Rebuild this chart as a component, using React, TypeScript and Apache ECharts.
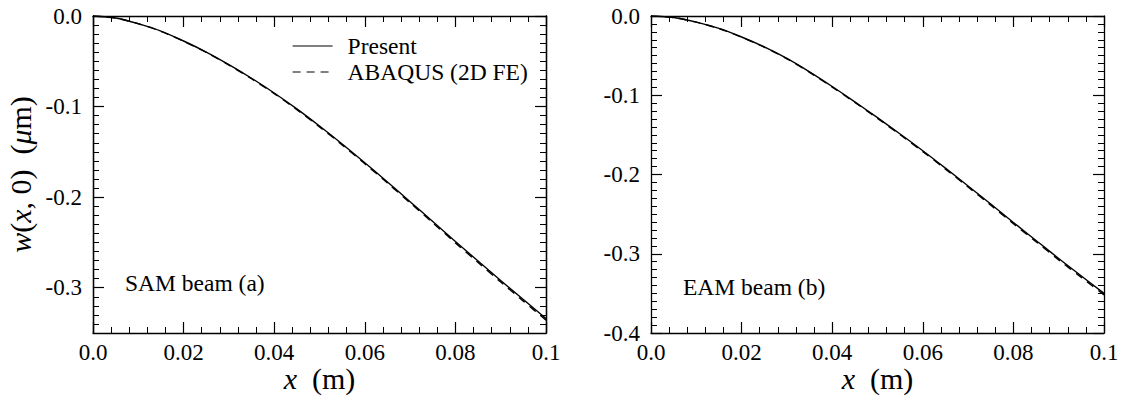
import React, { useEffect, useRef } from 'react';
import * as echarts from 'echarts';

const xs = [0, 0.005, 0.01, 0.015, 0.02, 0.025, 0.03, 0.035, 0.04, 0.045, 0.05, 0.055, 0.06, 0.065, 0.07, 0.075, 0.08, 0.085, 0.09, 0.095, 0.1];

const samPresent = [0, -0.0022, -0.0085, -0.0167, -0.0276, -0.0398, -0.0537, -0.0687, -0.085, -0.1026, -0.1215, -0.1413, -0.162, -0.1832, -0.205, -0.2269, -0.249, -0.2705, -0.292, -0.313, -0.334];
const samAbaqus = [0, -0.0022, -0.0086, -0.0169, -0.0279, -0.0402, -0.0542, -0.0693, -0.0857, -0.1034, -0.1224, -0.1423, -0.1631, -0.1844, -0.2063, -0.2283, -0.2505, -0.2721, -0.2937, -0.3148, -0.3358];
const eamPresent = [0, -0.0019, -0.0077, -0.0157, -0.0265, -0.039, -0.0535, -0.0705, -0.089, -0.1083, -0.1283, -0.1489, -0.17, -0.192, -0.2145, -0.2373, -0.2605, -0.2832, -0.306, -0.328, -0.35];
const eamAbaqus = [0, -0.0019, -0.0078, -0.0159, -0.0268, -0.0394, -0.054, -0.0711, -0.0897, -0.1091, -0.1292, -0.1499, -0.1711, -0.1932, -0.2158, -0.2387, -0.262, -0.2848, -0.3077, -0.3298, -0.3519];

const xTickValues = [0, 0.02, 0.04, 0.06, 0.08, 0.1];
const xTickLabels = ['0.0', '0.02', '0.04', '0.06', '0.08', '0.1'];
const samYTicks = [0, -0.1, -0.2, -0.3];
const samYLabels = ['0.0', '-0.1', '-0.2', '-0.3'];
const eamYTicks = [0, -0.1, -0.2, -0.3, -0.4];
const eamYLabels = ['0.0', '-0.1', '-0.2', '-0.3', '-0.4'];
const samYMin = -0.35;
const eamYMin = -0.4;

const seriesNames = ['Present', 'ABAQUS (2D FE)'];
const panelNotes = ['SAM beam (a)', 'EAM beam (b)'];
const xName = '{i|x}  (m)';
const yName = '{i|w}({i|x}, 0)  ({i|μ}m)';

const FONT = "'Liberation Serif', 'Times New Roman', Tinos, serif";
const BLACK = '#000';

function lookup(values: number[], labels: string[]) {
  return (v: number) => {
    const i = values.findIndex((t) => Math.abs(t - v) < 1e-9);
    return i >= 0 ? labels[i] : '';
  };
}

const labelStyle = { color: BLACK, fontFamily: FONT, fontSize: 23 };
const nameStyle = {
  color: BLACK,
  fontFamily: FONT,
  fontSize: 30,
  rich: { i: { fontStyle: 'italic', fontFamily: FONT, fontSize: 30, color: BLACK } },
};
const lineStyle = { color: BLACK, width: 1.3 };
const majorTick = { show: true, inside: true, length: 11, lineStyle: { color: BLACK, width: 1.2 } };
const minorTickLen = 6;

function xAxes(g: number) {
  const base: any = {
    type: 'value',
    gridIndex: g,
    min: 0,
    max: 0.1,
    interval: 0.02,
    axisLine: { show: true, onZero: false, lineStyle },
    axisTick: majorTick,
    minorTick: { show: true, splitNumber: 5, length: minorTickLen, lineStyle: { color: BLACK, width: 1 } },
    splitLine: { show: false },
    minorSplitLine: { show: false },
  };
  return [
    {
      ...base,
      position: 'bottom',
      axisLabel: { show: true, margin: 8, ...labelStyle, formatter: lookup(xTickValues, xTickLabels) },
      name: xName,
      nameLocation: 'middle',
      nameGap: 30,
      nameMoveOverlap: false,
      nameTextStyle: nameStyle,
    },
    { ...base, position: 'top', axisLabel: { show: false } },
  ];
}

// SAM panel ends at -0.35: major ticks use custom values, a twin axis carries the 0.01 minor ticks
function samYAxes(g: number) {
  const common: any = {
    type: 'value',
    gridIndex: g,
    min: samYMin,
    max: 0,
    splitLine: { show: false },
    minorSplitLine: { show: false },
  };
  const major = (pos: string, showLabel: boolean) => ({
    ...common,
    position: pos,
    axisLine: { show: true, onZero: false, lineStyle },
    axisTick: { ...majorTick, customValues: samYTicks },
    axisLabel: {
      show: showLabel,
      customValues: samYTicks,
      margin: 11,
      ...labelStyle,
      formatter: lookup(samYTicks, samYLabels),
    },
    name: showLabel ? yName : '',
    nameLocation: 'middle',
    nameGap: 58,
    nameMoveOverlap: false,
    nameTextStyle: nameStyle,
  });
  const minor = (pos: string) => ({
    ...common,
    position: pos,
    interval: 0.05,
    axisLine: { show: true, onZero: false, lineStyle },
    axisTick: { show: true, inside: true, length: minorTickLen, lineStyle: { color: BLACK, width: 1 } },
    minorTick: { show: true, splitNumber: 5, length: minorTickLen, lineStyle: { color: BLACK, width: 1 } },
    axisLabel: { show: false },
  });
  return [major('left', true), minor('left'), major('right', false), minor('right')];
}

function eamYAxes(g: number) {
  const base: any = {
    type: 'value',
    gridIndex: g,
    min: eamYMin,
    max: 0,
    interval: 0.1,
    axisLine: { show: true, onZero: false, lineStyle },
    axisTick: majorTick,
    minorTick: { show: true, splitNumber: 10, length: minorTickLen, lineStyle: { color: BLACK, width: 1 } },
    splitLine: { show: false },
    minorSplitLine: { show: false },
  };
  return [
    {
      ...base,
      position: 'left',
      axisLabel: { show: true, margin: 11, ...labelStyle, formatter: lookup(eamYTicks, eamYLabels) },
    },
    { ...base, position: 'right', axisLabel: { show: false } },
  ];
}

function lineSeries(name: string, values: number[], xi: number, yi: number, dashed: boolean) {
  return {
    type: 'line',
    name,
    xAxisIndex: xi,
    yAxisIndex: yi,
    data: xs.map((x, i) => [x, values[i]]),
    smooth: 0.3,
    symbol: 'none',
    z: dashed ? 3 : 2,
    lineStyle: { color: BLACK, width: 1.4, type: dashed ? [8, 6] : 'solid' },
    itemStyle: { color: BLACK },
  };
}

export default function App() {
  const ref = useRef<HTMLDivElement>(null);
  useEffect(() => {
    if (!ref.current) return;
    const chart = echarts.init(ref.current, undefined, { renderer: 'svg' });
    const option: any = {
      animation: false,
      backgroundColor: '#fff',
      textStyle: { fontFamily: FONT, color: BLACK },
      grid: [
        { left: 93, top: 16, width: 453, height: 317, containLabel: false, outerBoundsMode: 'none' },
        { left: 651, top: 16, width: 453, height: 317, containLabel: false, outerBoundsMode: 'none' },
      ],
      xAxis: [...xAxes(0), ...xAxes(1)],
      yAxis: [...samYAxes(0), ...eamYAxes(1)],
      legend: {
        show: true,
        selectedMode: false,
        orient: 'vertical',
        left: 287,
        top: 28,
        itemWidth: 40,
        itemHeight: 14,
        itemGap: 0,
        data: seriesNames,
        itemStyle: { opacity: 0 },
        lineStyle: { width: 1.2 },
        textStyle: { fontFamily: FONT, fontSize: 23.5, color: BLACK, padding: [0, 0, 0, 10], lineHeight: 26 },
      },
      graphic: [
        {
          type: 'text',
          left: 125,
          top: 271,
          style: { text: panelNotes[0], fontFamily: FONT, fontSize: 23.5, fill: BLACK },
        },
        {
          type: 'text',
          left: 683,
          top: 275,
          style: { text: panelNotes[1], fontFamily: FONT, fontSize: 23.5, fill: BLACK },
        },
      ],
      series: [
        lineSeries(seriesNames[0], samPresent, 0, 0, false),
        lineSeries(seriesNames[1], samAbaqus, 0, 0, true),
        lineSeries(seriesNames[0], eamPresent, 2, 4, false),
        lineSeries(seriesNames[1], eamAbaqus, 2, 4, true),
      ],
    };
    chart.setOption(option);
    return () => chart.dispose();
  }, []);
  return (
    <div
      ref={ref}
      style={{ position: 'absolute', left: 0, top: 0, width: 1130, height: 396, background: '#fff' }}
    />
  );
}
